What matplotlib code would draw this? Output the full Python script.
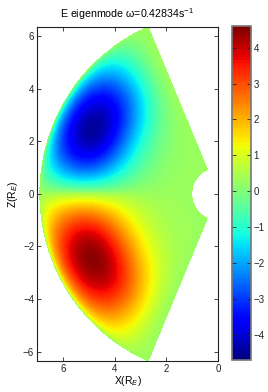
import numpy as np
import matplotlib
matplotlib.use("Agg")
import matplotlib.pyplot as plt

# ---- chart values ----
title_text = r"E eigenmode ω=0.42834s$^{-1}$"
x_label = r"X(R$_E$)"
y_label = r"Z(R$_E$)"
x_ticks = [6, 4, 2, 0]
y_ticks = [-6, -4, -2, 0, 2, 4, 6]
cbar_ticks = [-4, -3, -2, -1, 0, 1, 2, 3, 4]

r_inner = 1.0          # inner boundary (Earth)
r_outer = 6.9          # outer boundary radius
lat_edge = 67.0        # latitude of the radial edges (deg)
peak_r = 5.45          # radius of the extrema
peak_lat = 27.0        # latitude of the extrema (deg)
lat_zero = 0.5         # latitude of the node of the mode shape (deg)
cbar_min = -4.69       # colour range
cbar_max = 4.60
background = 0.3       # value on the boundaries
north_peak = -4.75     # northern (blue) amplitude
south_peak = 4.20      # southern (red) amplitude
sigma_in = 1.15        # inner radial width
q_out = 0.6            # outer radial exponent
q_pole = 1.8           # poleward angular exponent
flat = 0.85            # plateau exponent

# ---- field on polar mesh ----
r = np.linspace(r_inner, r_outer, 400)
lat = np.linspace(-lat_edge, lat_edge, 600)
R, L = np.meshgrid(r, lat)
X = R * np.cos(np.radians(L))
Z = R * np.sin(np.radians(L))

radial = np.where(
    R < peak_r,
    np.exp(-(R - peak_r) ** 2 / (2 * sigma_in ** 2)),
    np.clip(np.cos(np.pi / 2 * (R - peak_r) / (r_outer - peak_r)), 0, 1) ** q_out,
)

def ang_profile(a, zero, pk, edge):
    return np.where(
        a < pk,
        np.sin(np.pi / 2 * np.clip((a - zero) / (pk - zero), 0, 1)),
        np.clip(np.cos(np.pi / 2 * (a - pk) / (edge - pk)), 0, 1) ** q_pole,
    )

north = ang_profile(np.maximum(L, lat_zero), lat_zero, peak_lat, lat_edge)
south = ang_profile(np.maximum(-L, -lat_zero), -lat_zero, peak_lat, lat_edge)
field = background + np.where(L >= lat_zero,
                              north_peak * (north * radial) ** flat,
                              south_peak * (south * radial) ** flat)

# ---- figure ----
plt.rcParams["font.family"] = ["Liberation Sans", "DejaVu Sans"]
plt.rcParams["mathtext.fontset"] = "custom"
plt.rcParams["mathtext.rm"] = "Liberation Sans"
plt.rcParams["mathtext.it"] = "Liberation Sans:italic"

fig = plt.figure(figsize=(2.68, 3.92), dpi=100)
ax = fig.add_axes([37 / 268, 1 - 361 / 392, 181 / 268, (361 - 26.7) / 392])
cmap = plt.get_cmap("jet", 128)
pc = ax.pcolormesh(X, Z, field, cmap=cmap, vmin=cbar_min, vmax=cbar_max,
                   shading="nearest", rasterized=True)
ax.set_xlim(7, 0)
ax.set_ylim(-6.35, 6.35)
ax.set_xticks(x_ticks)
ax.set_yticks(y_ticks)
ax.tick_params(direction="in", top=True, right=True, length=3, width=0.6,
               labelsize=7, colors="#222222", pad=2)
for s in ax.spines.values():
    s.set_linewidth(0.8)
    s.set_color("#222222")
ax.set_title(title_text, fontsize=7.7, pad=6)
ax.set_xlabel(x_label, fontsize=7.5, labelpad=0)
ax.set_ylabel(y_label, fontsize=7.5, labelpad=2)

cax = fig.add_axes([232 / 268, 1 - 360 / 392, 19 / 268, 334 / 392])
cb = fig.colorbar(pc, cax=cax, ticks=cbar_ticks)
cb.ax.tick_params(direction="in", left=True, right=True, length=3, width=0.6,
                  labelsize=7, colors="#222222", pad=2)
cb.outline.set_edgecolor("#777777")
cb.outline.set_linewidth(1.2)

fig.savefig("out.png", dpi=100)
